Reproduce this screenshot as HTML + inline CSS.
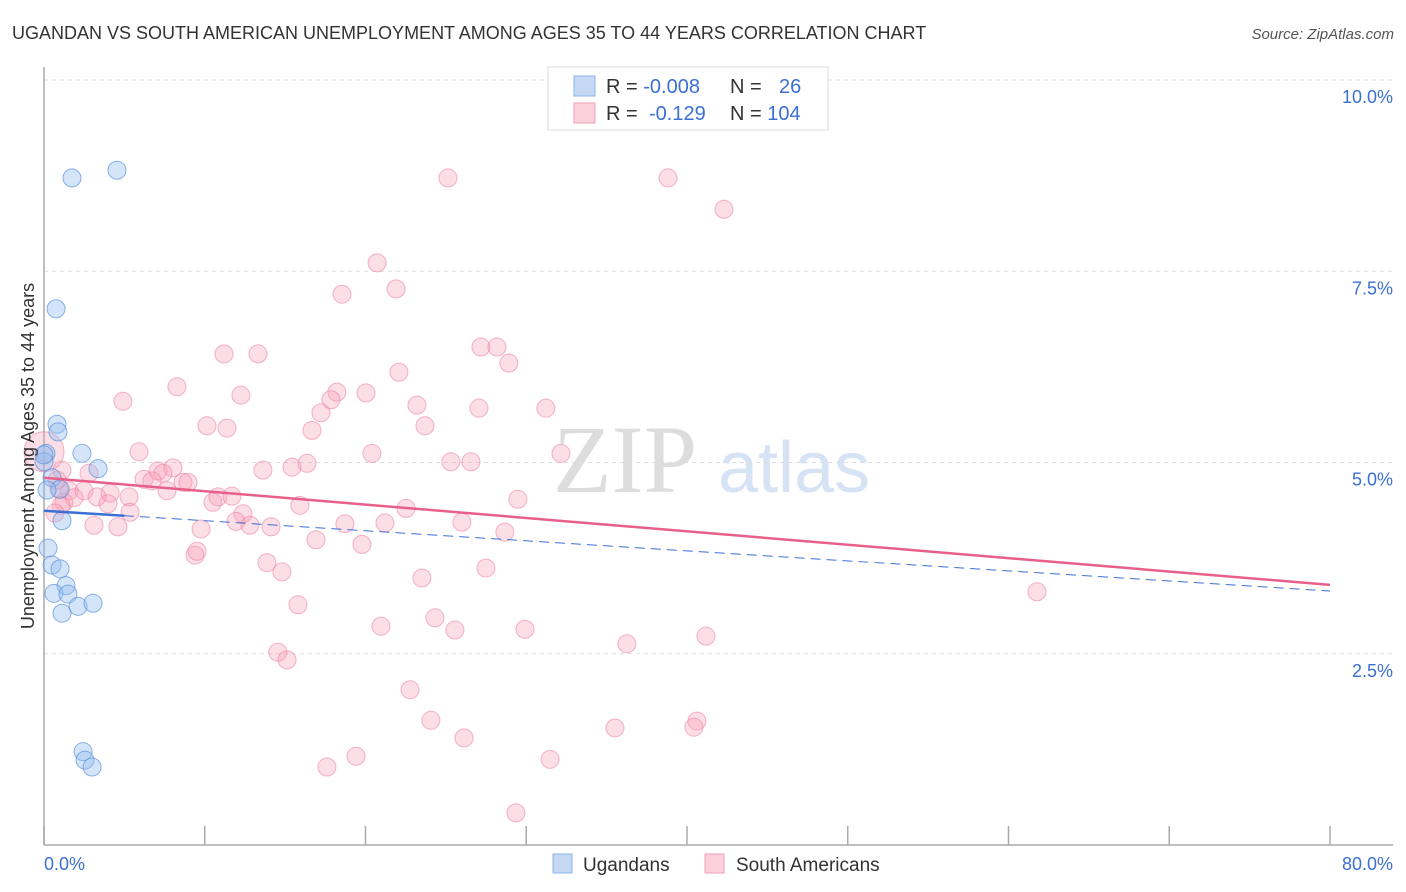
<!DOCTYPE html>
<html><head><meta charset="utf-8"><style>
body{margin:0;background:#fff;font-family:"Liberation Sans",sans-serif;}
svg{display:block}
</style></head><body>
<svg id="chart" width="1406" height="892" xmlns="http://www.w3.org/2000/svg">
<text x="12" y="39" font-size="18" fill="#333">UGANDAN VS SOUTH AMERICAN UNEMPLOYMENT AMONG AGES 35 TO 44 YEARS CORRELATION CHART</text>
<text x="1394" y="39" font-size="15" fill="#555" font-style="italic" text-anchor="end">Source: ZipAtlas.com</text>
<g>
<text x="553" y="492" font-family="Liberation Serif,serif" font-size="96" fill="#ddd">ZIP</text>
<text x="718" y="492" font-size="72" fill="#d6e3f5">atlas</text>
</g>
<g id="grid"></g>
<g id="axes"></g>
<g id="marks"></g>
<g>
<rect x="548" y="67" width="280" height="63" fill="#fff" stroke="#ddd"/>
<rect x="574" y="76" width="21" height="20" fill="#c5d9f5" stroke="#8ab4ea"/>
<rect x="574" y="103" width="21" height="20" fill="#fcd0dc" stroke="#f0a2b8"/>
<text x="606" y="93" font-size="20" fill="#333">R = <tspan fill="#3b6fd4">-0.008</tspan></text>
<text x="730" y="93" font-size="20" fill="#333">N = <tspan x="779" fill="#3b6fd4">26</tspan></text>
<text x="606" y="120" font-size="20" fill="#333">R = <tspan x="649" fill="#3b6fd4">-0.129</tspan></text>
<text x="730" y="120" font-size="20" fill="#333">N = <tspan fill="#3b6fd4">104</tspan></text>
</g>
<g>
<rect x="553" y="854" width="19" height="19" fill="#c5d9f5" stroke="#8ab4ea"/>
<text x="583" y="871" font-size="19" fill="#333">Ugandans</text>
<rect x="705" y="854" width="19" height="19" fill="#fcd0dc" stroke="#f0a2b8"/>
<text x="736" y="871" font-size="19" fill="#333">South Americans</text>
</g>
<text transform="translate(34,456) rotate(-90)" font-size="18" fill="#333" text-anchor="middle">Unemployment Among Ages 35 to 44 years</text>
</svg>
<script>
const yTicks=[2.5,5.0,7.5,10.0];
const yTickLabels=["2.5%","5.0%","7.5%","10.0%"];
const xTicks=[0,10,20,30,40,50,60,70,80];
const xTickLabels=["0.0%","80.0%"];
const ugX=[1.74,4.54,0.75,0.81,0.87,2.36,0.12,0.0,3.36,0.50,1.0,1.12,0.25,0.50,1.0,1.37,0.62,1.49,2.12,3.05,1.12,2.43,2.55,2.99,0.0,0.19];
const ugY=[8.72,8.82,7.01,5.50,5.40,5.12,5.12,5.01,4.92,4.80,4.65,4.24,3.88,3.66,3.61,3.39,3.29,3.28,3.12,3.16,3.03,1.22,1.11,1.02,5.10,4.64];
const saX=[25.13,38.82,42.30,20.72,18.54,21.90,11.20,13.31,27.18,28.18,28.92,22.08,8.27,4.91,12.25,18.22,20.03,17.85,23.20,27.06,31.22,17.23,10.14,11.38,16.67,23.70,5.91,20.40,32.16,25.31,26.56,7.09,8.02,7.40,13.62,15.43,16.36,2.80,6.22,6.72,8.65,8.96,0.93,1.56,2.49,4.11,3.30,5.29,7.65,10.82,11.69,1.24,1.87,3.98,1.06,10.51,15.92,29.48,22.52,5.35,12.38,11.94,12.81,14.12,3.11,4.60,9.77,18.72,21.21,26.00,28.67,16.92,19.78,9.39,9.52,13.87,14.80,27.49,23.51,15.80,61.77,24.32,20.96,25.56,29.92,36.26,41.18,14.55,15.12,22.77,24.07,40.62,40.43,35.52,26.13,19.41,17.60,31.48,29.36,0.81,0.68,1.12,0.0];
const saY=[8.72,8.72,8.31,7.61,7.20,7.27,6.42,6.42,6.51,6.51,6.30,6.18,5.99,5.80,5.88,5.92,5.91,5.82,5.75,5.71,5.71,5.65,5.48,5.45,5.42,5.48,5.14,5.12,5.12,5.01,5.01,4.89,4.93,4.86,4.90,4.94,4.99,4.86,4.78,4.76,4.74,4.74,4.65,4.63,4.63,4.60,4.55,4.55,4.63,4.55,4.56,4.48,4.54,4.46,4.44,4.48,4.44,4.52,4.40,4.35,4.33,4.23,4.18,4.16,4.18,4.16,4.13,4.20,4.21,4.22,4.09,3.99,3.93,3.79,3.84,3.69,3.57,3.62,3.49,3.14,3.31,2.97,2.86,2.81,2.82,2.63,2.73,2.52,2.42,2.03,1.63,1.62,1.54,1.53,1.40,1.16,1.02,1.12,0.42,4.77,4.34,4.90,5.14];
const ugTrend=[4.37,3.32];
const saTrend=[4.80,3.40];
const X0=44,X1=1330,Y0=845,Y10=80;
const sx=v=>X0+(X1-X0)*v/80;
const sy=v=>Y0-(Y0-Y10)*v/10;
const NS="http://www.w3.org/2000/svg";
function mk(tag,attrs,parent){const e=document.createElementNS(NS,tag);for(const k in attrs)e.setAttribute(k,attrs[k]);parent.appendChild(e);return e;}
const grid=document.getElementById('grid'),axes=document.getElementById('axes'),marks=document.getElementById('marks');
yTicks.forEach((t,i)=>{
 const g=mk('line',{x1:X0,x2:1393,y1:sy(t),y2:sy(t),stroke:'#ddd','stroke-dasharray':'4,4'},grid);
 
 
 const l=mk('text',{x:1393,y:sy(t)+23,'font-size':18,fill:'#3b6fd4','text-anchor':'end'},axes);
 l.textContent=yTickLabels[i];
 
 
});
const ya=mk('line',{x1:X0,x2:X0,y1:67,y2:Y0,stroke:'#aaa','stroke-width':1.5},axes);


const xa=mk('line',{x1:X0,x2:1393,y1:Y0,y2:Y0,stroke:'#aaa','stroke-width':1.5},axes);


xTicks.forEach(t=>{
 const tk=mk('line',{x1:sx(t),x2:sx(t),y1:826,y2:Y0,stroke:'#aaa','stroke-width':1.5},axes);
 
 
});
[[0,'start',X0],[80,'end',1393]].forEach((d,i)=>{
 const l=mk('text',{x:d[2],y:870,'font-size':18,fill:'#3b6fd4','text-anchor':d[1]},axes);
 l.textContent=xTickLabels[i];
 
 
});
saX.forEach((x,i)=>{
 const c=mk('circle',{cx:sx(x),cy:sy(saY[i]),r:(i===saX.length-1?20:9),fill:'rgba(246,160,185,0.35)',stroke:'rgba(236,130,160,0.6)','stroke-width':1},marks);
 
 
});
ugX.forEach((x,i)=>{
 const c=mk('circle',{cx:sx(x),cy:sy(ugY[i]),r:9,fill:'rgba(150,190,240,0.4)',stroke:'rgba(90,145,220,0.7)','stroke-width':1},marks);
 
 
});
const ut=(v)=>ugTrend[0]+(ugTrend[1]-ugTrend[0])*v/80;
const ud=mk('line',{x1:sx(0),y1:sy(ut(0)),x2:sx(80),y2:sy(ut(80)),stroke:'#3b6fd4','stroke-width':1,'stroke-dasharray':'10,6'},marks);


const us=mk('line',{x1:sx(0),y1:sy(ut(0)),x2:sx(5),y2:sy(ut(5)),stroke:'#3b6fd4','stroke-width':2.5},marks);


const st=mk('line',{x1:sx(0),y1:sy(saTrend[0]),x2:sx(80),y2:sy(saTrend[1]),stroke:'#e8608a','stroke-width':2.5},marks);


</script>
</body></html>
